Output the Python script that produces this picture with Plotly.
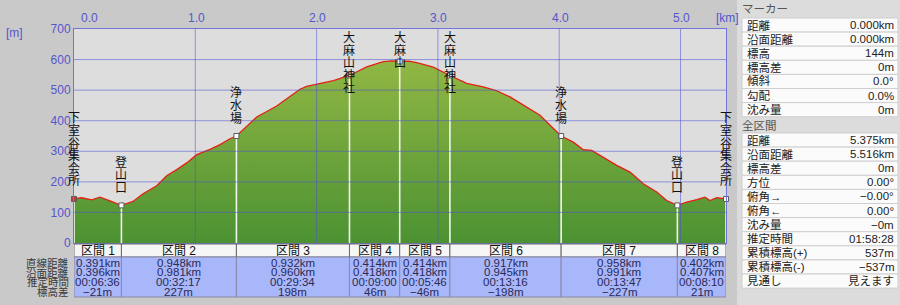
import numpy as np
import plotly.graph_objects as go

# ---------------- data ----------------
dist_km = [0.000, 0.063, 0.146, 0.214, 0.297, 0.391, 0.486, 0.569, 0.682, 0.764, 0.847, 0.929,
           1.012, 1.121, 1.204, 1.286, 1.339, 1.424, 1.506, 1.589, 1.671, 1.754, 1.863, 1.918,
           2.001, 2.138, 2.271, 2.413, 2.550, 2.620, 2.685, 2.760, 2.825, 2.962, 3.099, 3.237,
           3.374, 3.485, 3.594, 3.732, 3.842, 3.897, 4.016, 4.116, 4.199, 4.268, 4.364, 4.474,
           4.584, 4.693, 4.804, 4.886, 4.974, 5.051, 5.134, 5.202, 5.243, 5.298, 5.375]
elev_m = [144, 148, 141, 150, 138, 123, 136, 161, 187, 220, 240, 262,
          289, 306, 322, 341, 350, 383, 412, 430, 448, 472, 503, 512,
          520, 531, 548, 576, 593, 596, 594, 595, 590, 575, 548, 522,
          511, 498, 478, 445, 418, 396, 350, 330, 305, 303, 281, 254,
          232, 194, 167, 139, 123, 134, 142, 150, 139, 148, 144]

start_elev = 144
point_names = ["下室谷集会所", "登山口", "浄水場", "大麻山神社", "大麻山",
               "大麻山神社", "浄水場", "登山口", "下室谷集会所"]
section_names = ["区間 1", "区間 2", "区間 3", "区間 4", "区間 5", "区間 6", "区間 7", "区間 8"]
section_straight = ["0.391km", "0.948km", "0.932km", "0.414km", "0.414km", "0.917km", "0.958km", "0.402km"]
section_straight_km = [0.391, 0.948, 0.932, 0.414, 0.414, 0.917, 0.958, 0.402]
section_surface = ["0.396km", "0.981km", "0.960km", "0.418km", "0.418km", "0.945km", "0.991km", "0.407km"]
section_time = ["00:06:36", "00:32:17", "00:29:34", "00:09:00", "00:05:46", "00:13:16", "00:13:47", "00:08:10"]
section_dz = [-21, 227, 198, 46, -46, -198, -227, 21]
row_labels = ["直線距離", "沿面距離", "推定時間", "標高差"]

x_ticks = [0, 1, 2, 3, 4, 5]
x_tick_text = ["0.0", "1.0", "2.0", "3.0", "4.0", "5.0"]
y_ticks = [0, 100, 200, 300, 400, 500, 600, 700]
x_max = 5.375
y_max = 700

marker_labels = ["距離", "沿面距離", "標高", "標高差", "傾斜", "勾配", "沈み量"]
marker_values = ["0.000km", "0.000km", "144m", "0m", "0.0°", "0.0%", "0m"]
total_labels = ["距離", "沿面距離", "標高差", "方位", "俯角→", "俯角←", "沈み量",
                "推定時間", "累積標高(+)", "累積標高(-)", "見通し"]
total_values = ["5.375km", "5.516km", "0m", "0.00°", "−0.00°", "0.00°", "−0m",
                "01:58:28", "537m", "−537m", "見えます"]

# ---------------- geometry helpers ----------------
W, H = 900, 305
L, R, T, B = 74, 726, 29, 243


def pxx(px):
    return (px - L) / (R - L)


def pxy(py):
    return (B - py) / (B - T)


mk_x = np.minimum(np.concatenate([[0.0], np.cumsum(section_straight_km)]), x_max)
mk_y = start_elev + np.concatenate([[0], np.cumsum(section_dz)])

FONT = "Liberation Sans, Noto Sans CJK JP, sans-serif"
CJK = "Noto Sans CJK JP, sans-serif"
BLUE_TXT = "rgb(85,85,205)"

fig = go.Figure()

# elevation area
fig.add_trace(go.Scatter(
    x=dist_km, y=elev_m, mode="lines", fill="tozeroy",
    line=dict(color="rgb(225,35,20)", width=1.3),
    fillgradient=dict(type="vertical", start=0, stop=600,
                      colorscale=[[0, "rgb(76,146,50)"], [1, "rgb(145,183,68)"]]),
    hoverinfo="skip", showlegend=False))

# marker vertical white lines
lx, ly = [], []
for xv, yv in zip(mk_x, mk_y):
    lx += [xv, xv, None]
    ly += [0, yv, None]
fig.add_trace(go.Scatter(x=lx, y=ly, mode="lines",
                         line=dict(color="rgba(250,250,250,0.95)", width=1.6),
                         hoverinfo="skip", showlegend=False))

# marker points
colors = ["rgb(190,60,60)"] + ["white"] * (len(mk_x) - 1)
fig.add_trace(go.Scatter(x=mk_x, y=mk_y, mode="markers",
                         marker=dict(symbol="square", size=5, color=colors,
                                     line=dict(color="rgb(90,90,90)", width=1)),
                         hoverinfo="skip", showlegend=False, cliponaxis=False))

shapes = []
annotations = []

# grid lines drawn over the area
GRID = "rgba(80,80,215,0.55)"
for yv in y_ticks[1:-1]:
    shapes.append(dict(type="line", xref="x", yref="y", x0=0, x1=x_max, y0=yv, y1=yv,
                       line=dict(color=GRID, width=1), layer="above"))
for xv in x_ticks[1:]:
    shapes.append(dict(type="line", xref="x", yref="y", x0=xv, x1=xv, y0=0, y1=y_max,
                       line=dict(color=GRID, width=1), layer="above"))

# vertical point labels (one char per annotation)
CH = 12.6
for name, xv, yv in zip(point_names, mk_x, mk_y):
    n = len(name)
    py_pt = B - yv / y_max * (B - T)
    first_center = py_pt - 19 - (n - 1) * CH
    clamp = first_center < T + 7.5
    for i, ch in enumerate(name):
        if clamp:
            annotations.append(dict(x=xv, xref="x", y=1, yref="paper", text=ch,
                                    yshift=-(7.5 + i * CH), showarrow=False,
                                    xanchor="center", yanchor="middle",
                                    font=dict(family=CJK, size=12, color="#111")))
        else:
            annotations.append(dict(x=xv, xref="x", y=yv, yref="y", text=ch,
                                    yshift=19 + (n - 1 - i) * CH, showarrow=False,
                                    xanchor="center", yanchor="middle",
                                    font=dict(family=CJK, size=12, color="#111")))

# x tick labels on top
for i, (xv, tt) in enumerate(zip(x_ticks, x_tick_text)):
    annotations.append(dict(x=xv, xref="x", y=pxy(18), yref="paper", text=tt,
                            showarrow=False, xanchor="left" if i == 0 else "center",
                            xshift=5 if i == 0 else 1, yanchor="middle",
                            font=dict(family=FONT, size=12, color=BLUE_TXT)))
annotations.append(dict(x=pxx(727), xref="paper", y=pxy(18), yref="paper", text="[km]",
                        showarrow=False, xanchor="center", yanchor="middle",
                        font=dict(family=FONT, size=12, color=BLUE_TXT)))
annotations.append(dict(x=pxx(4), xref="paper", y=pxy(33), yref="paper", text="[m]",
                        showarrow=False, xanchor="left", yanchor="middle",
                        font=dict(family=FONT, size=12, color=BLUE_TXT)))

# ---------------- section table ----------------
for i in range(len(section_names)):
    x0, x1 = mk_x[i], mk_x[i + 1]
    shapes.append(dict(type="rect", xref="x", yref="paper", x0=x0, x1=x1,
                       y0=pxy(257), y1=pxy(244), fillcolor="#f6f6f6",
                       line=dict(color="#6a6a6a", width=1), layer="above"))
    shapes.append(dict(type="rect", xref="x", yref="paper", x0=x0, x1=x1,
                       y0=pxy(297), y1=pxy(257), fillcolor="rgb(168,182,250)",
                       line=dict(color="#8a8aa8", width=1), layer="above"))
    xm = (x0 + x1) / 2
    annotations.append(dict(x=xm, xref="x", y=pxy(251), yref="paper", text=section_names[i],
                            showarrow=False, xanchor="center", yanchor="middle",
                            font=dict(family=FONT, size=12, color="#111")))
    vals = [section_straight[i], section_surface[i], section_time[i],
            f"{section_dz[i]}m".replace("-", "−")]
    for k, v in enumerate(vals):
        annotations.append(dict(x=xm, xref="x", y=pxy(262.5 + 9.7 * k), yref="paper", text=v,
                                showarrow=False, xanchor="center", yanchor="middle",
                                font=dict(family=FONT, size=11.5, color="#2a2a55")))
for k, lab in enumerate(row_labels):
    annotations.append(dict(x=pxx(71), xref="paper", y=pxy(262.5 + 9.7 * k), yref="paper",
                            text=lab, showarrow=False, xanchor="right", yanchor="middle",
                            font=dict(family=CJK, size=10.5, color="#3a3a3a")))

# ---------------- right info panel ----------------
shapes.append(dict(type="rect", xref="paper", yref="paper", x0=pxx(737), x1=pxx(900),
                   y0=pxy(305), y1=pxy(0), fillcolor="#dcdcdc", line=dict(width=0),
                   layer="below"))
ROW = 14.1


def panel_rows(labels, values, top0):
    for j, (lab, val) in enumerate(zip(labels, values)):
        top = top0 + ROW * j
        shapes.append(dict(type="rect", xref="paper", yref="paper", x0=pxx(742), x1=pxx(898),
                           y0=pxy(top + ROW), y1=pxy(top), fillcolor="#fbfbfb",
                           line=dict(color="#cfcfcf", width=1), layer="above"))
        cy = top + ROW / 2
        annotations.append(dict(x=pxx(745), xref="paper", y=pxy(cy), yref="paper", text=lab,
                                showarrow=False, xanchor="left", yanchor="middle",
                                font=dict(family=FONT, size=11.5, color="#222")))
        annotations.append(dict(x=pxx(896), xref="paper", y=pxy(cy), yref="paper", text=val,
                                showarrow=False, xanchor="right", yanchor="middle",
                                font=dict(family=FONT, size=11.5, color="#222")))


annotations.append(dict(x=pxx(740), xref="paper", y=pxy(8), yref="paper", text="マーカー",
                        showarrow=False, xanchor="left", yanchor="middle",
                        font=dict(family=CJK, size=11.5, color="#555")))
panel_rows(marker_labels, marker_values, 18)
annotations.append(dict(x=pxx(740), xref="paper", y=pxy(125), yref="paper",
                        text="全区間", showarrow=False, xanchor="left", yanchor="middle",
                        font=dict(family=CJK, size=11.5, color="#555")))
panel_rows(total_labels, total_values, 133)

fig.update_layout(
    width=W, height=H,
    margin=dict(l=L, r=W - R, t=T, b=H - B, pad=0),
    paper_bgcolor="#c9c9c9", plot_bgcolor="#dddddd",
    showlegend=False,
    xaxis=dict(range=[0, x_max], tickvals=x_ticks, showticklabels=False, showgrid=False,
               zeroline=False, showline=True, mirror=True, linecolor="rgb(115,115,220)",
               linewidth=1, fixedrange=True),
    yaxis=dict(range=[0, y_max], tickvals=y_ticks, showgrid=False, zeroline=False,
               showline=True, mirror=True, linecolor="rgb(115,115,220)", linewidth=1,
               tickfont=dict(family=FONT, size=12, color=BLUE_TXT), ticks="",
               fixedrange=True),
    shapes=shapes, annotations=annotations,
)

fig.write_html("out.html")
